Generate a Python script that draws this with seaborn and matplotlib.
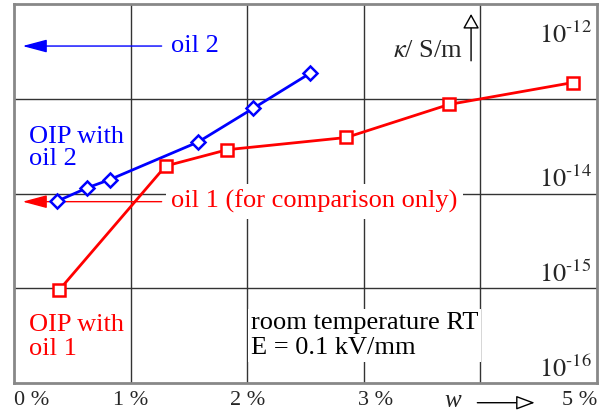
import matplotlib
matplotlib.use('Agg')
import matplotlib.pyplot as plt
import seaborn as sns
import pandas as pd

# water content w in %, conductivity kappa in S/m
w_oil2 = [0.37, 0.63, 0.82, 1.58, 2.05, 2.54]
kappa_oil2 = [8.3e-15, 1.15e-14, 1.4e-14, 3.5e-14, 7.9e-14, 1.86e-13]
w_oil1 = [0.385, 1.30, 1.83, 2.85, 3.73, 4.79]
kappa_oil1 = [9.5e-16, 1.95e-14, 2.9e-14, 3.9e-14, 8.7e-14, 1.48e-13]

x_grid = [1, 2, 3, 4]
y_grid = [1e-13, 1e-14, 1e-15]
x_labels = ['0 %', '1 %', '2 %', '3 %', '5 %']
x_label_pos = [0, 1, 2, 3, 5]
y_labels = [(12, 3.9e-13), (14, 1.16e-14), (15, 1.16e-15), (16, 1.16e-16)]

sns.set_style('white')
plt.rcParams['font.family'] = ['Liberation Serif', 'DejaVu Serif']
plt.rcParams['mathtext.fontset'] = 'stix'

BLUE = '#0000ff'
RED = '#ff0000'
FS = 19

fig = plt.figure(figsize=(6, 4.16), dpi=100)
ax = fig.add_axes([14 / 600, 1 - 383 / 416, 583 / 600, 379 / 416])
ax.set_yscale('log')
ax.set_xlim(0, 5)
ax.set_ylim(1e-16, 1e-12)

for x in x_grid:
    ax.axvline(x, color='#333333', lw=1, zorder=1)
for y in y_grid:
    ax.axhline(y, color='#333333', lw=1, zorder=1)

df2 = pd.DataFrame({'w': w_oil2, 'kappa': kappa_oil2})
df1 = pd.DataFrame({'w': w_oil1, 'kappa': kappa_oil1})
sns.lineplot(data=df2, x='w', y='kappa', ax=ax, color=BLUE, lw=2,
             marker='D', ms=7.5, mfc='white', mec=BLUE, mew=1.8, zorder=5)
sns.lineplot(data=df1, x='w', y='kappa', ax=ax, color=RED, lw=2,
             marker='s', ms=8, mfc='white', mec=RED, mew=1.8, zorder=5)

ax.set_xticks([])
ax.set_yticks([])
ax.minorticks_off()
ax.set_xlabel('')
ax.set_ylabel('')
for s in ax.spines.values():
    s.set_color('#888888')
    s.set_linewidth(2)

# arrows pointing to the pure oils
head = '-|>,head_length=1.5,head_width=0.4'
ax.annotate('', xy=(0.05, 3.6e-13), xytext=(1.29, 3.6e-13),
            arrowprops=dict(arrowstyle=head, color=BLUE, lw=1), zorder=4)
ax.text(1.35, 3.6e-13, 'oil 2', color=BLUE, fontsize=FS, va='center', ha='left')
ax.annotate('', xy=(0.05, 8.2e-15), xytext=(1.29, 8.2e-15),
            arrowprops=dict(arrowstyle=head, color=RED, lw=1), zorder=4)
ax.text(1.35, 8.2e-15, 'oil 1 (for comparison only)', color=RED, fontsize=FS,
        va='center', ha='left', zorder=3,
        bbox=dict(fc='white', ec='none', pad=4))

ax.text(0.13, 5.2e-14, 'OIP with\noil 2', color=BLUE, fontsize=FS,
        va='top', ha='left', linespacing=1.0)
ax.text(0.13, 5.4e-16, 'OIP with\noil 1', color=RED, fontsize=FS,
        va='top', ha='left', linespacing=1.17)
ax.text(2.03, 5.6e-16, 'room temperature RT\nE = 0.1 kV/mm', color='black',
        fontsize=FS, va='top', ha='left', linespacing=1.17, zorder=3,
        bbox=dict(fc='white', ec='none', pad=2))

# y axis quantity and unit
ax.text(3.85, 3.2e-13, r'$\kappa$/ S/m', fontsize=FS, va='center', ha='right')
ax.annotate('', xy=(3.92, 8.4e-13), xytext=(3.92, 2.35e-13),
            arrowprops=dict(arrowstyle='-|>,head_length=0.9,head_width=0.5',
                            fc='white', ec='black', lw=1), annotation_clip=False)

for exp, yv in y_labels:
    ax.text(4.955, yv, r'$\mathrm{10^{\text{-}%d}}$' % exp, fontsize=FS,
            ha='right', va='baseline', zorder=6)

# x tick labels below the axes
for lab, xv in zip(x_labels, x_label_pos):
    ha = 'center'
    if xv == 0:
        ha = 'left'
    elif xv == 5:
        ha = 'right'
    xx = xv + 0.1 if xv == 3 else xv
    ax.text(xx, -0.047, lab, transform=ax.get_xaxis_transform(), fontsize=16,
            ha=ha, va='center', clip_on=False)
ax.text(3.76, -0.047, 'w', style='italic', transform=ax.get_xaxis_transform(),
        fontsize=18, ha='center', va='center', clip_on=False)
ax.annotate('', xy=(4.49, -0.052), xytext=(3.95, -0.052),
            xycoords=ax.get_xaxis_transform(),
            arrowprops=dict(arrowstyle='-|>,head_length=1.15,head_width=0.43',
                            fc='white', ec='black', lw=1), annotation_clip=False)

fig.savefig('out.png', dpi=100)
